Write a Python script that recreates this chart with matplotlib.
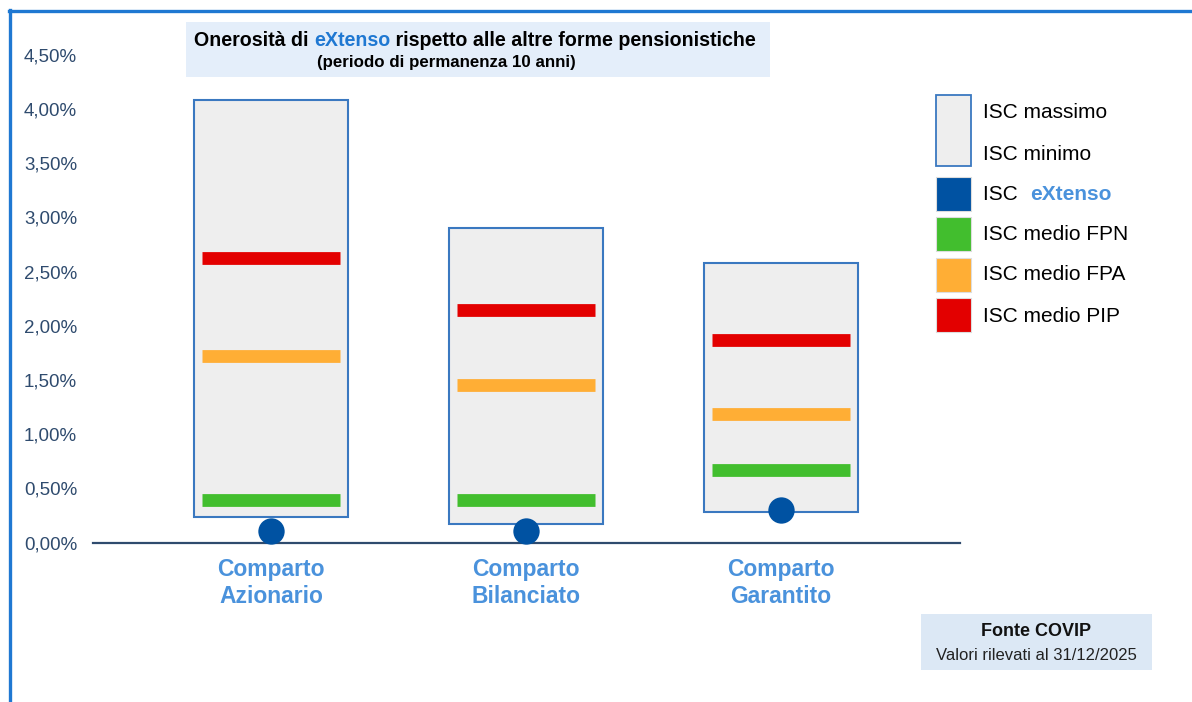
import matplotlib
matplotlib.use("Agg")
import matplotlib.pyplot as plt
from matplotlib.patches import Rectangle
from matplotlib.lines import Line2D

# ---------------- data ----------------
categories = ["Comparto\nAzionario", "Comparto\nBilanciato", "Comparto\nGarantito"]
isc_max = [4.08, 2.90, 2.58]
isc_min = [0.24, 0.17, 0.28]
isc_extenso = [0.11, 0.11, 0.30]
isc_fpn = [0.39, 0.39, 0.67]
isc_fpa = [1.72, 1.45, 1.19]
isc_pip = [2.63, 2.15, 1.87]
ytick_values = [0.0, 0.5, 1.0, 1.5, 2.0, 2.5, 3.0, 3.5, 4.0, 4.5]
ytick_labels = ["0,00%", "0,50%", "1,00%", "1,50%", "2,00%", "2,50%",
                "3,00%", "3,50%", "4,00%", "4,50%"]
legend_labels = ["ISC massimo", "ISC minimo", "ISC ", "ISC medio FPN",
                 "ISC medio FPA", "ISC medio PIP"]

# ---------------- style ----------------
W, H = 1192, 702
FONT = "Liberation Sans"
C_FRAME = "#1f78d2"
C_AXIS = "#2f4b6e"
C_BOX_FACE = "#eeeeee"
C_BOX_EDGE = "#3a78c0"
C_DOT = "#0052a2"
C_FPN = "#42be2e"
C_FPA = "#ffae35"
C_PIP = "#e30000"
C_CAT = "#4a92dc"
C_TITLEBOX = "#e4eefa"
C_SRCBOX = "#dce8f5"
C_BRAND = "#1f78d2"

plt.rcParams["font.family"] = [FONT, "DejaVu Sans"]

fig = plt.figure(figsize=(W / 100, H / 100), dpi=100)
fig.patch.set_facecolor("white")

# main axes (pixel placement)
ax_l, ax_r = 93, 960
ax_top, ax_bot = 40, 560
ax = fig.add_axes([ax_l / W, (H - ax_bot) / H, (ax_r - ax_l) / W, (ax_bot - ax_top) / H])
ax.set_facecolor("none")
ax.set_xlim(-0.698, 2.702)
ax.set_ylim(-0.160, 4.637)

box_w = 0.603
line_w = 0.541
xs = list(range(len(categories)))
for i in xs:
    ax.add_patch(Rectangle((i - box_w / 2, isc_min[i]), box_w, isc_max[i] - isc_min[i],
                           facecolor=C_BOX_FACE, edgecolor=C_BOX_EDGE, lw=1.5, zorder=2))
ax.hlines(isc_pip, [x - line_w / 2 for x in xs], [x + line_w / 2 for x in xs],
          colors=C_PIP, lw=9.2, zorder=3, capstyle="butt")
ax.hlines(isc_fpa, [x - line_w / 2 for x in xs], [x + line_w / 2 for x in xs],
          colors=C_FPA, lw=9.2, zorder=3, capstyle="butt")
ax.hlines(isc_fpn, [x - line_w / 2 for x in xs], [x + line_w / 2 for x in xs],
          colors=C_FPN, lw=9.2, zorder=3, capstyle="butt")
ax.scatter(xs, isc_extenso, s=360, color=C_DOT, zorder=4, linewidths=0)

for s in ["top", "right", "left"]:
    ax.spines[s].set_visible(False)
ax.spines["bottom"].set_position(("data", 0))
ax.spines["bottom"].set_color(C_AXIS)
ax.spines["bottom"].set_linewidth(1.6)
ax.set_yticks(ytick_values)
ax.set_yticklabels(ytick_labels, fontsize=13.5, color=C_AXIS)
ax.tick_params(axis="y", length=0, pad=11.5)
ax.set_xticks(xs)
ax.set_xticklabels(categories, fontsize=16.5, fontweight="bold", color=C_CAT,
                   linespacing=1.25)
ax.tick_params(axis="x", length=0, pad=11)

# overlay in pixel coordinates
ov = fig.add_axes([0, 0, 1, 1])
ov.set_xlim(0, W)
ov.set_ylim(H, 0)
ov.axis("off")
ov.set_facecolor("none")

# frame
ov.add_line(Line2D([9, W], [11, 11], color=C_FRAME, lw=2.4))
ov.add_line(Line2D([10, 10], [10, H], color=C_FRAME, lw=2.4))

renderer = fig.canvas.get_renderer()


def rich_text(parts, cx, cy, size, weight):
    texts = []
    for s, c in parts:
        t = ov.text(0, cy, s, fontsize=size, fontweight=weight, color=c,
                    ha="left", va="center")
        texts.append(t)
    widths = [t.get_window_extent(renderer).width for t in texts]
    total = sum(widths)
    x = cx - total / 2
    for t, w in zip(texts, widths):
        t.set_x(x)
        x += w


# title box
ov.add_patch(Rectangle((186, 22), 584, 55, facecolor=C_TITLEBOX, edgecolor="none"))
rich_text([("Onerosità di ", "black"), ("eXtenso", C_BRAND),
           (" rispetto alle altre forme pensionistiche", "black")],
          475, 40, 14.1, "bold")
ov.text(446, 62, "(periodo di permanenza 10 anni)", fontsize=12.2, fontweight="bold",
        color="black", ha="center", va="center")

# legend
ov.add_patch(Rectangle((936, 95), 35, 71, facecolor=C_BOX_FACE, edgecolor=C_BOX_EDGE, lw=1.3))
leg_colors = [C_DOT, C_FPN, C_FPA, C_PIP]
leg_tops = [177, 217, 258, 298]
for c, t in zip(leg_colors, leg_tops):
    ov.add_patch(Rectangle((936, t), 35, 34, facecolor=c, edgecolor="#dddddd", lw=0.8))
leg_y = [113, 155, 194, 235, 275, 316]
for lab, y in zip(legend_labels, leg_y):
    t = ov.text(983, y, lab, fontsize=15, color="black", ha="left", va="center")
    if lab == "ISC ":
        w = t.get_window_extent(renderer).width
        ov.text(983 + w + 7, y, "eXtenso", fontsize=15, fontweight="bold",
                color=C_CAT, ha="left", va="center")

# source box
ov.add_patch(Rectangle((921, 614), 231, 56, facecolor=C_SRCBOX, edgecolor="none"))
ov.text(1036, 632, "Fonte COVIP", fontsize=13, fontweight="bold", color="#111111",
        ha="center", va="center")
ov.text(1036, 655, "Valori rilevati al 31/12/2025", fontsize=12, color="#222222",
        ha="center", va="center")

fig.savefig("out.png", dpi=100)
